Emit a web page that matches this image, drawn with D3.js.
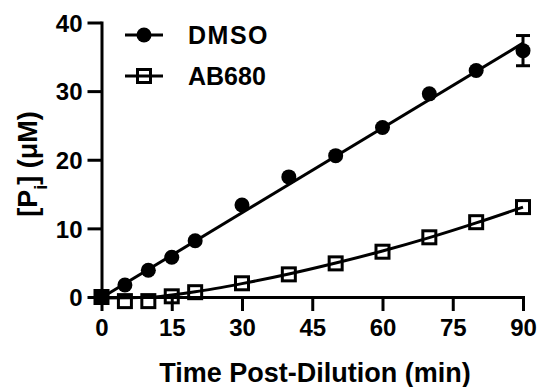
<!DOCTYPE html>
<html>
<head>
<meta charset="utf-8">
<script src="https://cdn.jsdelivr.net/npm/d3@7"></script>
<style>
  html, body { margin: 0; padding: 0; background: #fff; }
  svg { display: block; }
  text { font-family: "Liberation Sans", Arial, sans-serif; font-weight: bold; fill: #000; }
</style>
</head>
<body>
<svg id="chart" width="539" height="387"></svg>
<script>
// ---- data ----
const times = [0, 5, 10, 15, 20, 30, 40, 50, 60, 70, 80, 90];
const dmso = [0, 1.75, 3.9, 5.8, 8.2, 13.4, 17.5, 20.6, 24.7, 29.6, 33.0, 35.9];
const dmsoErr = [0, 0, 0, 0, 0, 0, 0, 0, 0, 0, 0, 2.2];
const ab680 = [0, -0.6, -0.6, 0.1, 0.7, 2.0, 3.3, 4.9, 6.6, 8.7, 10.9, 13.1];
const dmsoFitX = [0, 90];
const dmsoFitY = [-0.1, 37.0];
const abFitX = [0, 10, 15, 20, 30, 40, 50, 60, 70, 80, 90];
const abFitY = [-0.15, -0.05, 0.3, 0.75, 1.95, 3.35, 4.95, 6.7, 8.65, 10.8, 13.1];
const xTicks = [0, 15, 30, 45, 60, 75, 90];
const yTicks = [0, 10, 20, 30, 40];
const seriesNames = ["DMSO", "AB680"];

const svg = d3.select("#chart");
const x = d3.scaleLinear().domain([0, 90]).range([101.5, 523]);
const y = d3.scaleLinear().domain([0, 40]).range([297, 22.5]);

// axes
const xAxis = svg.append("g").attr("transform", `translate(0,${y(0)})`)
  .call(d3.axisBottom(x).tickValues(xTicks).tickSize(14).tickSizeOuter(0).tickPadding(8));
const yAxis = svg.append("g").attr("transform", `translate(${x(0)},0)`)
  .call(d3.axisLeft(y).tickValues(yTicks).tickSize(14).tickSizeOuter(0).tickPadding(5));
[xAxis, yAxis].forEach(g => {
  g.selectAll("path.domain").attr("stroke", "#000").attr("stroke-width", 3).attr("stroke-linecap", "square");
  g.selectAll(".tick line").attr("stroke", "#000").attr("stroke-width", 3);
  g.selectAll(".tick text").style("font-family", '"Liberation Sans", Arial, sans-serif')
    .style("font-weight", "bold").style("font-size", "24px").attr("fill", "#000");
});
yAxis.selectAll(".tick text").attr("dy", "0.36em");

// fit lines
const line = d3.line().x(d => x(d[0])).y(d => y(d[1]));
svg.append("path").datum(dmsoFitX.map((t, i) => [t, dmsoFitY[i]]))
  .attr("d", line).attr("fill", "none").attr("stroke", "#000").attr("stroke-width", 3);
svg.append("path").datum(abFitX.map((t, i) => [t, abFitY[i]]))
  .attr("d", line.curve(d3.curveMonotoneX)).attr("fill", "none").attr("stroke", "#000").attr("stroke-width", 3);

// error bars
const eb = svg.append("g");
times.forEach((t, i) => {
  if (dmsoErr[i] > 0) {
    const cx = x(t), y1 = y(dmso[i] + dmsoErr[i]), y2 = y(dmso[i] - dmsoErr[i]);
    eb.append("line").attr("x1", cx).attr("x2", cx).attr("y1", y1).attr("y2", y2).attr("stroke", "#000").attr("stroke-width", 3);
    [y1, y2].forEach(yy => eb.append("line").attr("x1", cx - 7).attr("x2", cx + 7).attr("y1", yy).attr("y2", yy)
      .attr("stroke", "#000").attr("stroke-width", 3));
  }
});

// markers
const sq = 13;
svg.append("g").selectAll("rect").data(times.map((t, i) => [t, ab680[i]])).join("rect")
  .attr("x", d => x(d[0]) - sq / 2).attr("y", d => y(d[1]) - sq / 2)
  .attr("width", sq).attr("height", sq).attr("fill", "none").attr("stroke", "#000").attr("stroke-width", 3);
svg.append("g").selectAll("circle").data(times.map((t, i) => [t, dmso[i]])).join("circle")
  .attr("cx", d => x(d[0])).attr("cy", d => y(d[1])).attr("r", 7.5).attr("fill", "#000");

// legend
const leg = svg.append("g");
const legY = [35, 76];
seriesNames.forEach((name, i) => {
  leg.append("line").attr("x1", 125).attr("x2", 163).attr("y1", legY[i]).attr("y2", legY[i])
    .attr("stroke", "#000").attr("stroke-width", 3);
  if (i === 0) {
    leg.append("circle").attr("cx", 144).attr("cy", legY[i]).attr("r", 7.5).attr("fill", "#000");
  } else {
    leg.append("rect").attr("x", 144 - sq / 2).attr("y", legY[i] - sq / 2).attr("width", sq).attr("height", sq)
      .attr("fill", "none").attr("stroke", "#000").attr("stroke-width", 3);
  }
  leg.append("text").attr("x", 188).attr("y", legY[i]).attr("dy", "0.36em")
    .style("font-size", "25px").style("letter-spacing", i === 0 ? "1.5px" : "0px").text(name);
});

// axis titles
svg.append("text").attr("x", 315).attr("y", 382).attr("text-anchor", "middle")
  .style("font-size", "27px").text("Time Post-Dilution (min)");
const yt = svg.append("text").attr("transform", "translate(37,164) rotate(-90)").attr("text-anchor", "middle")
  .style("font-size", "27px");
yt.append("tspan").text("[P");
yt.append("tspan").attr("baseline-shift", "sub").style("font-size", "18px").text("i");
yt.append("tspan").text("] (μM)");
</script>
</body>
</html>
